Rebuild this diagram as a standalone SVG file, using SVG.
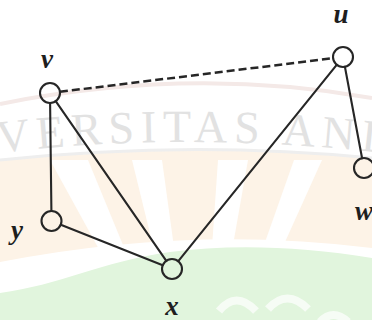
<svg xmlns="http://www.w3.org/2000/svg" width="372" height="320" viewBox="0 0 372 320">
  <style>
    .edge { stroke: #262626; stroke-width: 2.1; fill: none; stroke-linecap: round; }
    .dash { stroke-dasharray: 8 4; stroke-width: 2.5; stroke-linecap: butt; }
    .node { fill: none; stroke: #262626; stroke-width: 2.1; }
    .lbl { font-family: "Liberation Serif", "Times New Roman", serif; font-style: italic; font-weight: bold; font-size: 27px; fill: #1e1e1e; }
    .wm { font-family: "Liberation Serif", "Times New Roman", serif; font-size: 46px; letter-spacing: 6.5px; fill: #e2e2e2; }
  </style>
  <defs>
    <path id="wmPath" d="M -2 153 Q 190 130 400 155 L 480 165"/>
  </defs>
  <rect width="372" height="320" fill="#ffffff"/>
  <g id="background">
    <path d="M0 104 Q190 66 372 98" fill="none" stroke="#f4e9e7" stroke-width="4"/>
    <path d="M0 160 Q190 140 372 158 L372 248 Q190 225 0 262 Z" fill="#fdf3e7"/>
    <polygon points="50,160 88,160 130,262 106,262" fill="#ffffff"/>
    <polygon points="132,160 162,160 176,262 157,262" fill="#ffffff"/>
    <polygon points="218,160 248,160 230,262 211,262" fill="#ffffff"/>
    <polygon points="294,160 322,160 276,262 258,262" fill="#ffffff"/>
    <path d="M0 160 Q190 140 372 158" fill="none" stroke="#eeeeee" stroke-width="3"/>
    <path d="M0 293 C60 285 100 262 170 252 C230 244 300 246 372 258 L372 320 L0 320 Z" fill="#e1f5dd"/>
    <path d="M219 311 Q236 290 256 311" fill="none" stroke="#f6fcf5" stroke-width="8"/>
    <path d="M268 309 Q287 288 308 309" fill="none" stroke="#f6fcf5" stroke-width="8"/>
    <path d="M320 322 Q333 308 348 322" fill="none" stroke="#f6fcf5" stroke-width="8"/>
    <text class="wm"><textPath href="#wmPath">VERSITAS AND</textPath></text>
  </g>
  <g id="connectors">
    <line class="edge dash" x1="59.9" y1="91.8" x2="333.1" y2="58.2"/>
    <line class="edge" x1="50.1" y1="103" x2="51.4" y2="211"/>
    <line class="edge" x1="55.7" y1="101.2" x2="166.3" y2="260.8"/>
    <line class="edge" x1="60.8" y1="224.7" x2="162.7" y2="265.3"/>
    <line class="edge" x1="178.3" y1="261.2" x2="336.7" y2="64.8"/>
    <line class="edge" x1="344.9" y1="66.8" x2="362.1" y2="158.2"/>
  </g>
  <g id="node-v">
    <circle class="node" cx="50" cy="93" r="10"/>
    <text class="lbl" x="47" y="68" text-anchor="middle">v</text>
  </g>
  <g id="node-u">
    <circle class="node" cx="343" cy="57" r="10"/>
    <text class="lbl" x="341" y="23" text-anchor="middle">u</text>
  </g>
  <g id="node-w">
    <circle class="node" cx="364" cy="168" r="10"/>
    <text class="lbl" x="355" y="220">w</text>
  </g>
  <g id="node-y">
    <circle class="node" cx="51.5" cy="221" r="10"/>
    <text class="lbl" x="17" y="239" text-anchor="middle">y</text>
  </g>
  <g id="node-x">
    <circle class="node" cx="172" cy="269" r="10" stroke="#1f3a1f"/>
    <text class="lbl" x="172" y="315" text-anchor="middle">x</text>
  </g>
</svg>
